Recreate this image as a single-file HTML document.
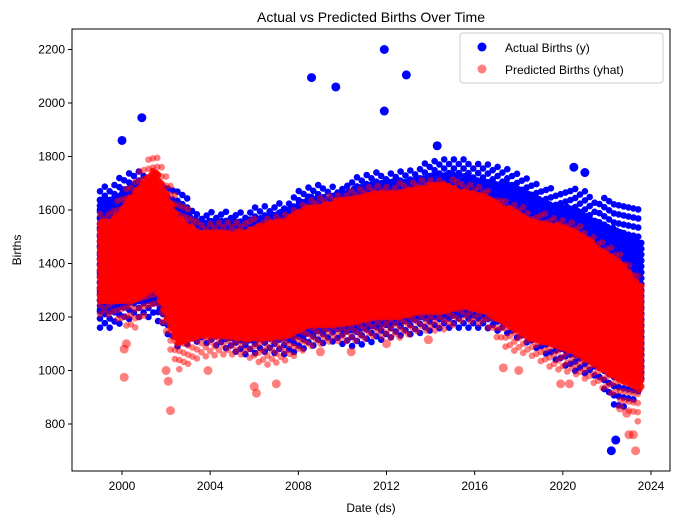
<!DOCTYPE html>
<html><head><meta charset="utf-8"><style>
body{margin:0;background:#fff;font-family:"Liberation Sans",sans-serif}
svg text{font-family:"Liberation Sans",sans-serif;fill:#000}
</style></head><body>
<svg id="chart" width="677" height="525" xmlns="http://www.w3.org/2000/svg">
<text x="371" y="22" font-size="14" text-anchor="middle">Actual vs Predicted Births Over Time</text>
<g id="marks"></g>
<rect x="72" y="29" width="598" height="442" fill="none" stroke="#000" stroke-width="1"/>
<g id="axes"></g>
<text x="371" y="512" font-size="12" text-anchor="middle">Date (ds)</text>
<text x="21" y="250" font-size="12" text-anchor="middle" transform="rotate(-90 21 250)">Births</text>
<g>
<rect x="460" y="33" width="203" height="50" fill="#fff" fill-opacity="0.8" stroke="#ccc" rx="3"/>
<circle cx="482" cy="47" r="4.5" fill="#0000ff"/>
<text x="505" y="52" font-size="12">Actual Births (y)</text>
<circle cx="482" cy="69" r="4.5" fill="#ff0000" fill-opacity="0.5"/>
<text x="505" y="74" font-size="12">Predicted Births (yhat)</text>
</g>
</svg>
<script>
const years=[1999,2000,2001,2002,2003,2004,2005,2006,2007,2008,2009,2010,2011,2012,2013,2014,2015,2016,2017,2018,2019,2020,2021,2022,2023];
const actualMin=[1160,1200,1200,1090,1110,1090,1060,1070,1060,1090,1110,1090,1110,1130,1140,1160,1160,1160,1140,1100,1050,1000,980,850,910];
const actualMax=[1700,1760,1720,1690,1600,1600,1600,1620,1640,1700,1690,1720,1740,1750,1770,1800,1790,1770,1770,1720,1680,1700,1650,1640,1620];
const actualCoreMin=[1220,1260,1260,1140,1150,1130,1110,1120,1120,1140,1160,1150,1170,1180,1200,1200,1210,1200,1180,1140,1100,1060,1040,980,960];
const actualCoreMax=[1640,1700,1700,1620,1560,1560,1560,1580,1600,1650,1650,1680,1700,1710,1720,1740,1730,1710,1700,1660,1620,1610,1560,1530,1480];
const predMin=[1210,1150,1260,1000,1050,1060,1060,1020,1040,1090,1110,1110,1130,1120,1150,1150,1190,1170,1080,1060,1010,990,950,900,800];
const predMax=[1600,1720,1820,1650,1560,1560,1560,1580,1600,1650,1660,1680,1700,1700,1720,1730,1700,1680,1640,1600,1580,1560,1500,1450,1350];
const predCoreMin=[1260,1260,1310,1100,1130,1130,1120,1120,1130,1170,1170,1180,1200,1200,1220,1220,1240,1220,1170,1120,1100,1070,1020,970,930];
const predCoreMax=[1560,1660,1760,1580,1520,1520,1520,1550,1570,1610,1630,1650,1670,1670,1690,1700,1670,1650,1610,1570,1550,1530,1470,1420,1320];
const outlierX=[2000.0,2000.9,2008.6,2009.7,2011.9,2011.9,2012.9,2022.2,2022.4,2021.0,2020.5,2014.3];
const outlierY=[1860,1945,2095,2060,2200,1970,2105,700,740,1740,1760,1840];
const predOutX=[2000.1,2000.1,2000.2,2002.2,2002.1,2002.0,2003.9,2006.1,2006.0,2007.0,2012.0,2013.9,2017.3,2018.0,2019.9,2020.3,2022.9,2023.0,2023.3,2023.2,2022.6,2009.0,2010.4];
const predOutY=[975,1080,1100,850,960,1000,1000,915,940,950,1100,1115,1010,1000,950,950,840,760,700,760,860,1070,1070];
const xTicks=[2000,2004,2008,2012,2016,2020,2024];
const yTicks=[800,1000,1200,1400,1600,1800,2000,2200];
const X=v=>122+(v-2000)*(529/24);
const Y=v=>424-(v-800)*0.2675;
const NS="http://www.w3.org/2000/svg";
const marks=document.getElementById('marks'),axes=document.getElementById('axes');
function at(arr,x){
  const p=x-1999-0.5;
  if(p<=0)return arr[0];
  if(p>=arr.length-1)return arr[arr.length-1];
  const i=Math.floor(p),f=p-i;return arr[i]*(1-f)+arr[i+1]*f;
}
function band(mins,maxs,color,op,name,dx,dy){
  const g=document.createElementNS(NS,'g');
  
  
  g.setAttribute('fill',color);g.setAttribute('fill-opacity',op);
  let k=0;
  for(let x=1999;x<=2023.6;x+=dx){
    const lo=at(mins,x),hi=at(maxs,x);
    const off=(k++%2)*dy/2;
    for(let b=lo+off;b<=hi;b+=dy){
      const c=document.createElementNS(NS,'circle');
      c.setAttribute('cx',X(x).toFixed(1));c.setAttribute('cy',Y(b).toFixed(1));c.setAttribute('r',3.3);
      g.appendChild(c);
    }
  }
  marks.appendChild(g);
}
function pts(xs,ys,color,op,name){
  xs.forEach((x,i)=>{
    const c=document.createElementNS(NS,'circle');
    
    
    c.setAttribute('cx',X(x));c.setAttribute('cy',Y(ys[i]));c.setAttribute('r',4.5);c.setAttribute('fill',color);c.setAttribute('fill-opacity',op);
    marks.appendChild(c);
  });
}
band(actualMin,actualMax,'#0000ff',1,'actual-points-sparse',0.22,34);
band(actualCoreMin,actualCoreMax,'#0000ff',1,'actual-points',0.08,22);
pts(outlierX,outlierY,'#0000ff',1,'actual-outlier');
band(predMin,predMax,'#ff0000',0.5,'predicted-points-sparse',0.2,34);
band(predCoreMin,predCoreMax,'#ff0000',0.85,'predicted-points',0.08,22);
pts(predOutX,predOutY,'#ff0000',0.5,'predicted-outlier');
xTicks.forEach(v=>{
  const l=document.createElementNS(NS,'line');
  
  
  l.setAttribute('x1',X(v));l.setAttribute('x2',X(v));l.setAttribute('y1',471);l.setAttribute('y2',475);l.setAttribute('stroke','#000');
  axes.appendChild(l);
  const t=document.createElementNS(NS,'text');
  
  
  t.setAttribute('x',X(v));t.setAttribute('y',490);t.setAttribute('font-size','12');t.setAttribute('text-anchor','middle');t.textContent=v;
  axes.appendChild(t);
});
yTicks.forEach(v=>{
  const l=document.createElementNS(NS,'line');
  
  
  l.setAttribute('x1',68);l.setAttribute('x2',72);l.setAttribute('y1',Y(v));l.setAttribute('y2',Y(v));l.setAttribute('stroke','#000');
  axes.appendChild(l);
  const t=document.createElementNS(NS,'text');
  
  
  t.setAttribute('x',65);t.setAttribute('y',Y(v)+4);t.setAttribute('font-size','12');t.setAttribute('text-anchor','end');t.textContent=v;
  axes.appendChild(t);
});
</script>
</body></html>
